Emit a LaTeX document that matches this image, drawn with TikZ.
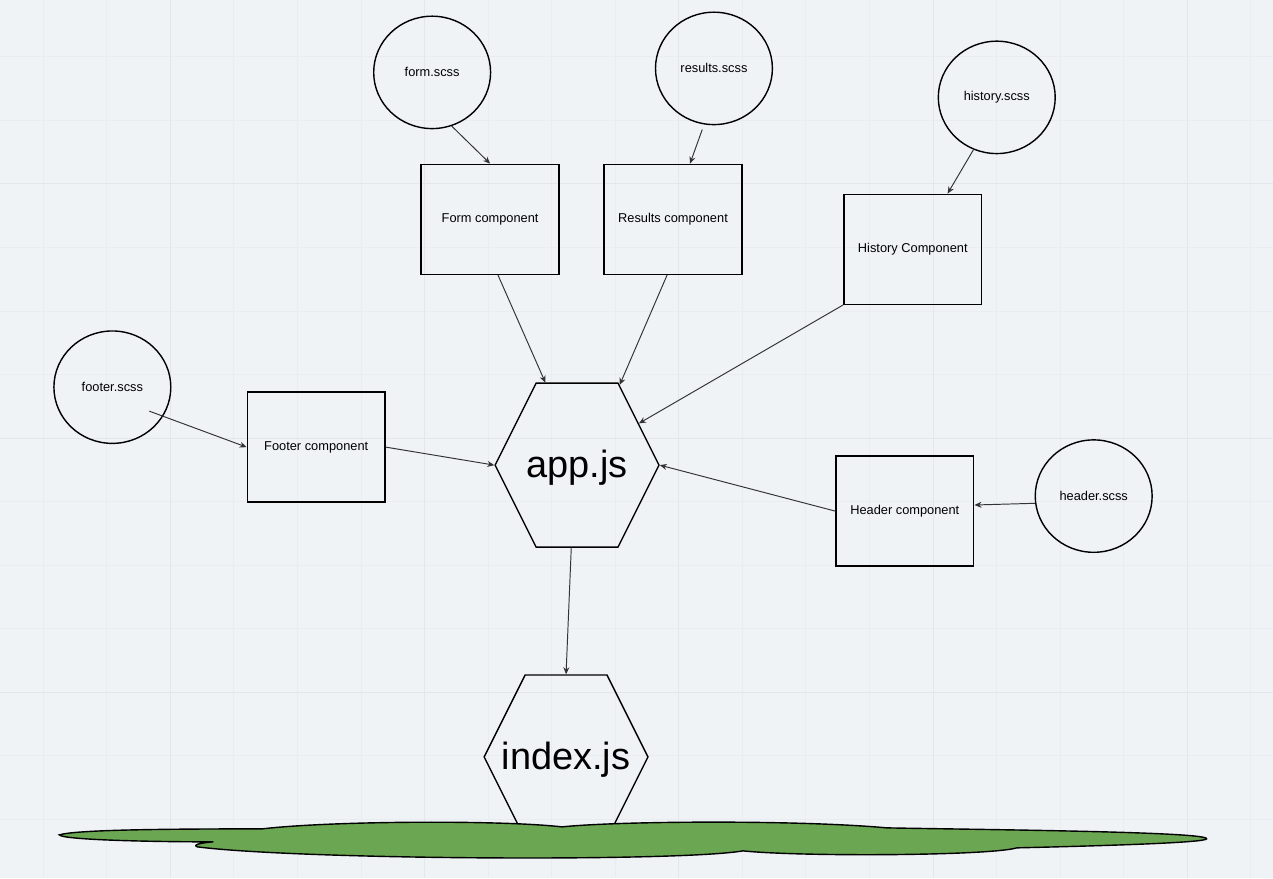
\documentclass[tikz,border=0pt]{standalone}
\usepackage{fontspec}
\setmainfont{Liberation Sans}
\usetikzlibrary{shapes.geometric,shapes.symbols,arrows.meta}

\definecolor{canvas}{RGB}{239,243,246}
\definecolor{gridminor}{RGB}{233,237,241}
\definecolor{gridmajor}{RGB}{227,231,236}
\definecolor{grass}{RGB}{107,166,83}

\newcommand{\jslabel}[1]{\makebox[0pt]{\smash{\raisebox{-7.2pt}{#1}}}}

\tikzset{
    scss/.style={ellipse, draw, line width=0.8pt, minimum width=2.34cm, minimum height=2.25cm, font=\fontsize{7.3}{9}\selectfont},
    comp/.style={rectangle, draw, line width=0.8pt, minimum width=2.76cm, minimum height=2.2cm, font=\fontsize{7.3}{9}\selectfont},
    jsfile/.style={signal, signal to=east and west, signal pointer angle=126.87, draw, line width=0.8pt, minimum width=3.28cm, minimum height=3.28cm, inner sep=0pt, font=\fontsize{21.6}{26}\selectfont},
    dep/.style={draw=black!80, line width=0.55pt, -{Stealth[length=4pt,width=3.4pt]}}
}

\begin{document}
\begin{tikzpicture}[x=0.02cm, y=-0.02cm]
    % canvas and grid
    \fill[canvas] (0,0) rectangle (1273,878);
    \foreach \i in {0,...,19}
        \draw[gridminor, line width=0.5pt] ({42.8+63.6*\i},0) -- ({42.8+63.6*\i},878);
    \foreach \j in {0,...,12}
        \draw[gridminor, line width=0.5pt] (0,{56.4+63.6*\j}) -- (1273,{56.4+63.6*\j});
    \foreach \i in {0,...,4}
        \draw[gridmajor, line width=0.5pt] ({170+254.4*\i},0) -- ({170+254.4*\i},878);
    \foreach \j in {0,...,2}
        \draw[gridmajor, line width=0.5pt] (0,{183.6+254.4*\j}) -- (1273,{183.6+254.4*\j});

    % style sheets
    \node[scss] (formscss) at (432,72) {form.scss};
    \node[scss] (resultsscss) at (714,68) {results.scss};
    \node[scss] (historyscss) at (997,97) {history.scss};
    \node[scss] (footerscss) at (112,387) {footer.scss};
    \node[scss] (headerscss) at (1094,496) {header.scss};

    % components
    \node[comp] (form) at (490,219) {Form component};
    \node[comp] (results) at (673,219) {Results component};
    \node[comp] (history) at (913,249) {History Component};
    \node[comp] (footer) at (316,447) {Footer component};
    \node[comp] (header) at (905,511) {Header component};

    % entry files
    \node[jsfile] (app) at (577,465) {\jslabel{app.js}};
    \node[jsfile] (index) at (566,757) {\jslabel{index.js}};

    % ground
    \draw[fill=grass, line width=0.8pt]
        (59,835) .. controls (75,830) and (160,829) .. (262,829)
        .. controls (330,821) and (500,820) .. (562,827)
        .. controls (620,821) and (800,820) .. (887,828)
        .. controls (1000,830) and (1210,832) .. (1207,839)
        .. controls (1205,843) and (1100,846) .. (1017,848)
        .. controls (990,856) and (800,857) .. (743,851)
        .. controls (680,862) and (300,860) .. (197,847)
        .. controls (192,845) and (200,843) .. (213,842)
        .. controls (150,842) and (62,840) .. (59,835) -- cycle;

    % imports
    \draw[dep] (formscss.-70) -- (form.north);
    \draw[dep, shorten <=3pt] (resultsscss.260) -- (results.73);
    \draw[dep] (historyscss.246) -- (history.58);
    \draw[dep] ([shift={(37,24)}]footerscss.center) -- (footer.west);
    \draw[dep] (headerscss.187) -- (header.5);
    \draw[dep] (form.-82) -- (app.111);
    \draw[dep] (results.264) -- (app.62);
    \draw[dep] (history.south west) -- (app.34);
    \draw[dep] (footer.east) -- (app.west);
    \draw[dep] (header.west) -- (app.east);
    \draw[dep] (app.266) -- (index.north);
\end{tikzpicture}
\end{document}
